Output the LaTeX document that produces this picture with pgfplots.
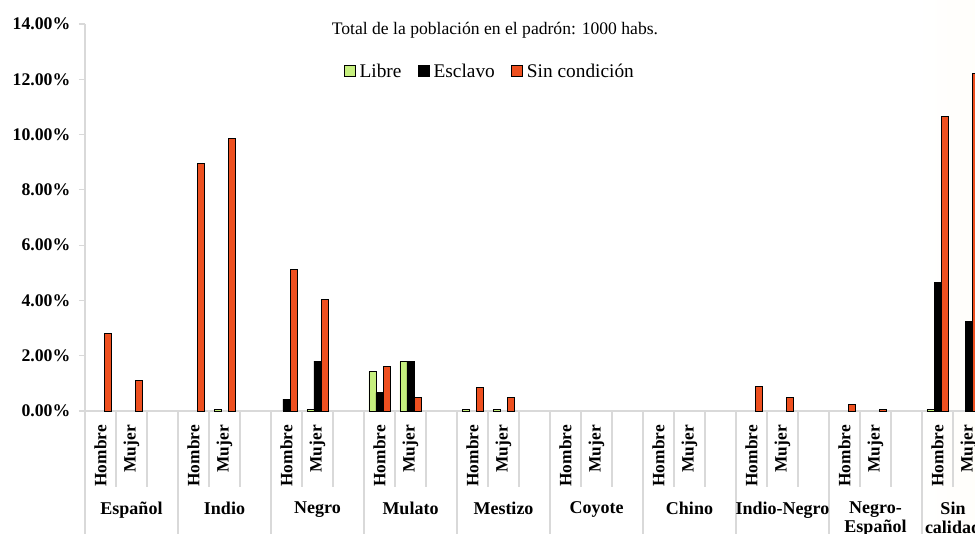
\documentclass[border=0pt]{standalone}
\usepackage{pgfplots}
\pgfplotsset{compat=1.18}
\usepackage{fontspec}
\setmainfont{Liberation Serif}
\definecolor{libre}{HTML}{C6EF7E}
\definecolor{esclavo}{HTML}{000000}
\definecolor{sincond}{HTML}{EE5020}
\definecolor{sepc}{HTML}{D9D9D9}
\definecolor{bgL}{HTML}{F1E9D2}
\definecolor{bgR}{HTML}{FBF1D2}
\pgfdeclarehorizontalshading{parch}{100bp}{color(0bp)=(bgL); color(10bp)=(bgL!40!white); color(16bp)=(white); color(72bp)=(white); color(100bp)=(bgR)}
\begin{document}
\begin{tikzpicture}
\useasboundingbox (0,0) rectangle (731.25pt,400.5pt);
\clip (0,0) rectangle (731.25pt,400.5pt);
\shade[shading=parch] (0,0) rectangle (731.25pt,400.5pt);
\begin{axis}[
  at={(63.75pt,92.25pt)}, anchor=south west,
  scale only axis, width=674.25pt, height=290.25pt,
  xmin=-0.5, xmax=28.5, ymin=0, ymax=14,
  clip=false,
  axis x line*=bottom, axis y line*=left,
  axis line style={draw=sepc, line width=0.8pt, -},
  ytick={0,2,4,6,8,10,12,14},
  yticklabel={\pgfmathprintnumber[fixed,fixed zerofill,precision=2,assume math mode=true]{\tick}\%},
  yticklabel style={font=\bfseries\fontsize{13.3}{13.3}\selectfont, xshift=-3pt},
  tick align=outside, major tick length=4.5pt,
  ytick style={draw=sepc, line width=0.8pt},
  xtick={0,1,3,4,6,7,9,10,12,13,15,16,18,19,21,22,24,25,27,28},
  xticklabels={Hombre,Mujer,Hombre,Mujer,Hombre,Mujer,Hombre,Mujer,Hombre,Mujer,Hombre,Mujer,Hombre,Mujer,Hombre,Mujer,Hombre,Mujer,Hombre,Mujer},
  xtick style={draw=none},
  xticklabel style={yshift=-6pt, rotate=90, anchor=east, inner sep=0pt, font=\bfseries\fontsize{13}{13}\selectfont},
  ybar, bar width=0.226,
  every axis plot/.append style={draw=black, line width=0.6pt},
  legend style={at={(0.4505,0.876)}, anchor=center, draw=none, fill=none,
    font=\fontsize{14.5}{14.5}\selectfont, legend columns=3,
    /tikz/every even column/.append style={column sep=10pt},
    /tikz/every odd column/.append style={column sep=1pt}, inner sep=0pt},
  legend image code/.code={\draw[#1,draw=black,line width=0.6pt] (0pt,-3.5pt) rectangle (8.5pt,5pt);},
]
\addplot[fill=libre, bar shift=-0.226] coordinates {(4,0.05) (7,0.05) (9,1.42) (10,1.78) (12,0.05) (13,0.05) (27,0.05)};
\addplot[fill=esclavo, bar shift=0] coordinates {(6,0.43) (7,1.8) (9,0.66) (10,1.78) (27,4.65) (28,3.23)};
\addplot[fill=sincond, bar shift=0.226] coordinates {(0,2.8) (1,1.1) (3,8.97) (4,9.85) (6,5.13) (7,4.04) (9,1.6) (10,0.49) (12,0.84) (13,0.5) (21,0.89) (22,0.5) (24,0.24) (25,0.07) (27,10.66) (28,12.22)};
\legend{Libre,Esclavo,Sin condición}
\pgfplotsinvokeforeach{0.5,1.5,3.5,4.5,6.5,7.5,9.5,10.5,12.5,13.5,15.5,16.5,18.5,19.5,21.5,22.5,24.5,25.5,27.5}{\draw[sepc, line width=0.8pt] (axis cs:#1,0) -- ++(0pt,-57pt);}
\pgfplotsinvokeforeach{-0.5,2.5,5.5,8.5,11.5,14.5,17.5,20.5,23.5,26.5,28.5}{\draw[sepc, line width=0.8pt] (axis cs:#1,0) -- ++(0pt,-95pt);}
\node[font=\fontsize{13.2}{13.2}\selectfont] at (rel axis cs:0.456,0.9845) {Total de la población en el padrón: 1000 habs.};
\node[font=\bfseries\fontsize{13.5}{14}\selectfont, anchor=north, inner sep=0pt, align=center] at ([yshift=-68pt]axis cs:1,0) {Español};
\node[font=\bfseries\fontsize{13.5}{14}\selectfont, anchor=north, inner sep=0pt, align=center] at ([yshift=-68pt]axis cs:4,0) {Indio};
\node[font=\bfseries\fontsize{13.5}{14}\selectfont, anchor=north, inner sep=0pt, align=center] at ([yshift=-68pt]axis cs:7,0) {Negro};
\node[font=\bfseries\fontsize{13.5}{14}\selectfont, anchor=north, inner sep=0pt, align=center] at ([yshift=-68pt]axis cs:10,0) {Mulato};
\node[font=\bfseries\fontsize{13.5}{14}\selectfont, anchor=north, inner sep=0pt, align=center] at ([yshift=-68pt]axis cs:13,0) {Mestizo};
\node[font=\bfseries\fontsize{13.5}{14}\selectfont, anchor=north, inner sep=0pt, align=center] at ([yshift=-68pt]axis cs:16,0) {Coyote};
\node[font=\bfseries\fontsize{13.5}{14}\selectfont, anchor=north, inner sep=0pt, align=center] at ([yshift=-68pt]axis cs:19,0) {Chino};
\node[font=\bfseries\fontsize{13.5}{14}\selectfont, anchor=north, inner sep=0pt, align=center] at ([yshift=-68pt]axis cs:22,0) {Indio-Negro};
\node[font=\bfseries\fontsize{13.5}{14}\selectfont, anchor=north, inner sep=0pt, align=center] at ([yshift=-68pt]axis cs:25,0) {Negro-\\Español};
\node[font=\bfseries\fontsize{13.5}{14}\selectfont, anchor=north, inner sep=0pt, align=center] at ([yshift=-68pt]axis cs:27.5,0) {Sin\\calidad};
\end{axis}
\end{tikzpicture}
\end{document}
